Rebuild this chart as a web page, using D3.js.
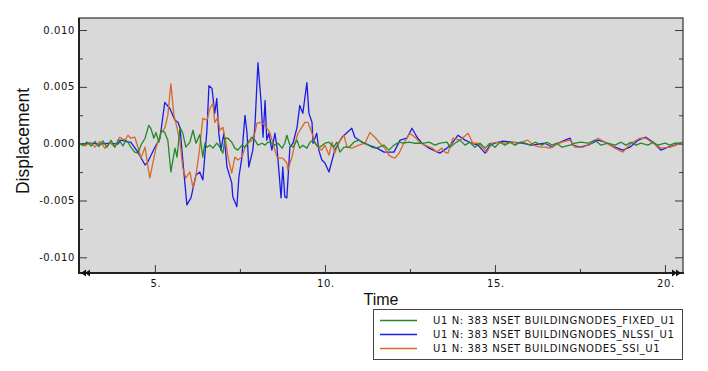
<!DOCTYPE html>
<html>
<head>
<meta charset="utf-8">
<title>Displacement vs Time</title>
<script src="https://d3js.org/d3.v7.min.js"></script>
<style>
  body { margin: 0; background: #fff; }
  svg { display: block; }
  .tick-label { font-family: "DejaVu Sans", Verdana, sans-serif; font-size: 10px; letter-spacing: 0.6px; fill: #111; }
  .axis-title { font-family: "Liberation Sans", Arial, sans-serif; fill: #111; }
  .legend-text { font-family: "DejaVu Sans", Verdana, sans-serif; font-size: 10px; letter-spacing: 0.6px; fill: #111; }
</style>
</head>
<body>
<div id="chart"></div>
<script>
// series names (legend order)
var seriesNames = ["U1 N: 383 NSET BUILDINGNODES_FIXED_U1",
                   "U1 N: 383 NSET BUILDINGNODES_NLSSI_U1",
                   "U1 N: 383 NSET BUILDINGNODES_SSI_U1"];
var seriesColors = ["#25892a", "#1c1ce8", "#d8692a"];

// displacement values are in units of 1e-3
var fixedT = [2.79,2.88,3.00,3.12,3.24,3.35,3.47,3.59,3.71,3.82,3.94,4.06,4.15,4.21,4.29,4.41,4.50,4.59,4.71,4.82,4.88,4.97,5.03,5.12,5.18,5.29,5.38,5.47,5.59,5.65,5.74,5.82,5.91,6.03,6.12,6.21,6.32,6.41,6.47,6.53,6.62,6.71,6.82,6.91,7.00,7.06,7.15,7.26,7.35,7.44,7.56,7.65,7.74,7.85,7.94,8.03,8.15,8.24,8.32,8.44,8.53,8.62,8.74,8.82,8.88,8.97,9.06,9.18,9.26,9.35,9.47,9.56,9.65,9.76,9.85,10.00,10.12,10.26,10.35,10.44,10.56,10.71,10.85,11.00,11.15,11.29,11.38,11.47,11.59,11.74,11.88,12.03,12.18,12.32,12.47,12.62,12.76,12.91,13.06,13.24,13.38,13.59,13.68,13.82,13.97,14.12,14.26,14.41,14.56,14.71,14.85,15.00,15.15,15.29,15.44,15.59,15.74,15.88,16.03,16.18,16.38,16.53,16.68,16.82,16.97,17.21,17.35,17.53,17.74,17.94,18.12,18.32,18.53,18.71,18.85,19.00,19.15,19.29,19.50,19.65,19.79,20.00,20.15,20.29,20.47];
var fixedU = [0.0,-0.15,0.15,-0.2,0.2,-0.25,0.25,-0.3,0.3,-0.3,0.35,-0.2,0.3,0.13,-0.31,-0.74,-0.83,-0.13,0.48,1.62,1.36,0.48,0.99,0.13,1.18,0.99,0.31,-2.49,-0.39,-1.18,1.44,0.92,-0.31,0.13,1.18,0.04,0.8,-1.18,0.04,-0.31,-0.13,-0.39,0.04,-0.31,-0.83,0.48,0.48,0.13,-0.39,-0.57,-0.13,-0.31,0.13,0.57,0.31,-0.13,0.04,-0.13,0.13,0.04,-0.13,0.04,-0.39,0.04,0.74,-0.13,-0.31,0.31,-0.39,-0.13,-0.39,0.13,0.31,-0.13,-0.31,0.04,0.13,-0.31,0.13,-0.74,-0.31,-0.31,0.13,0.31,0.04,-0.13,-0.31,-0.39,-0.31,-0.13,-0.57,-0.13,0.13,0.04,0.13,0.04,0.04,0.04,0.13,-0.13,0.04,0.13,-0.31,0.04,0.31,-0.13,0.13,-0.31,0.04,-0.39,0.04,-0.31,0.13,-0.13,0.13,-0.13,0.13,0.04,-0.13,0.13,-0.13,0.13,-0.13,0.04,-0.31,-0.13,0.04,0.13,0.04,0.31,-0.13,0.04,-0.13,0.13,-0.13,0.13,-0.13,0.04,-0.13,0.13,-0.13,0.04,-0.13,0.04,0.04];

var nlssiT = [2.79,3.09,3.38,3.68,3.91,4.00,4.12,4.21,4.29,4.50,4.71,4.79,5.00,5.15,5.29,5.44,5.59,5.68,5.74,5.82,5.94,6.06,6.21,6.32,6.41,6.53,6.59,6.68,6.76,6.82,6.88,6.94,7.03,7.12,7.26,7.29,7.41,7.47,7.56,7.59,7.65,7.71,7.76,7.88,7.94,8.03,8.12,8.18,8.24,8.29,8.35,8.44,8.53,8.59,8.71,8.76,8.82,8.88,8.97,9.06,9.18,9.26,9.35,9.47,9.53,9.62,9.65,9.76,9.82,9.91,10.00,10.12,10.29,10.50,10.79,10.88,11.09,11.29,11.53,11.74,12.03,12.21,12.41,12.56,12.71,12.85,13.06,13.38,13.59,13.74,13.91,14.12,14.32,14.50,14.71,14.85,15.00,15.24,15.50,15.79,16.09,16.47,16.68,16.85,17.06,17.21,17.29,17.50,17.74,18.03,18.24,18.53,18.76,18.97,19.21,19.44,19.65,19.88,20.09,20.29,20.53];
var nlssiU = [-0.04,0.04,-0.04,0.04,-0.04,0.31,0.22,0.13,0.13,-0.74,-1.88,-1.62,-0.31,0.48,3.63,3.10,2.06,1.88,1.36,-1.44,-5.38,-4.77,-2.75,-2.49,-3.19,1.18,5.11,4.85,2.67,3.98,0.92,-0.57,0.92,-2.05,-3.45,-4.68,-5.55,-2.93,-1.18,0.31,2.49,0.92,-2.05,-0.57,1.44,7.12,3.80,0.57,3.80,0.31,0.92,-0.57,0.92,-0.31,-4.77,-2.05,-4.68,-4.77,-0.31,0.04,1.44,3.37,2.67,5.38,2.67,1.88,0.04,0.92,-0.57,-1.44,-1.70,-2.49,-0.57,0.57,1.36,0.57,0.13,-0.13,-0.39,-0.74,-0.74,0.31,0.48,1.36,0.57,0.04,-0.39,-0.83,-0.39,0.04,0.74,0.31,0.04,-0.13,-0.83,-0.13,0.04,0.22,0.13,0.04,-0.13,0.04,-0.31,0.04,0.31,0.48,-0.13,-0.31,-0.13,0.31,0.13,-0.31,-0.57,-0.31,0.31,0.57,0.13,-0.57,-0.31,-0.13,0.13];

var ssiT = [2.79,2.94,3.09,3.24,3.38,3.53,3.68,3.82,3.91,3.97,4.12,4.21,4.29,4.41,4.50,4.59,4.71,4.79,4.85,4.94,5.03,5.18,5.29,5.38,5.47,5.56,5.62,5.74,5.82,5.91,6.03,6.12,6.21,6.30,6.41,6.53,6.62,6.71,6.76,6.85,6.91,7.00,7.09,7.15,7.26,7.35,7.44,7.56,7.65,7.74,7.85,7.94,8.00,8.09,8.18,8.29,8.38,8.47,8.59,8.68,8.76,8.88,8.91,9.03,9.12,9.21,9.32,9.41,9.50,9.62,9.71,9.79,9.91,10.00,10.12,10.21,10.29,10.41,10.56,10.65,10.79,11.00,11.18,11.32,11.47,11.62,11.76,11.88,11.97,12.06,12.18,12.32,12.50,12.65,12.79,12.94,13.15,13.29,13.44,13.53,13.62,13.76,13.97,14.21,14.35,14.50,14.65,14.76,14.91,15.09,15.29,15.50,15.65,15.79,15.97,16.12,16.32,16.47,16.62,16.76,16.97,17.21,17.35,17.59,17.82,18.03,18.24,18.53,18.76,19.00,19.26,19.44,19.65,19.88,20.15,20.32,20.53];
var ssiU = [0.0,-0.2,0.1,-0.3,0.2,-0.4,0.1,-0.3,0.3,0.57,0.31,0.74,0.48,0.57,-0.31,-1.27,-0.31,-1.88,-3.02,-1.70,-0.39,0.92,1.36,2.49,5.29,2.49,1.79,0.13,-2.14,-3.02,-2.49,-3.89,-2.75,-0.8,2.23,2.06,3.10,3.54,1.88,2.32,1.18,1.44,0.04,-1.18,-2.58,-1.18,-1.44,-1.18,-0.31,0.04,0.31,0.92,1.79,1.88,1.79,1.36,0.99,0.04,-1.18,-1.27,-1.27,-1.70,-2.32,-1.18,0.04,0.92,1.44,1.88,1.88,0.92,0.04,-0.31,-0.57,-0.13,-1.01,0.13,-0.83,0.13,0.74,-0.31,-0.39,-0.13,0.04,0.99,0.57,0.04,-0.39,-1.01,-1.18,-1.27,-0.83,0.04,0.92,0.57,0.13,-0.13,-0.39,-0.74,-0.39,-0.74,-0.83,0.48,0.31,0.92,0.04,0.04,-0.39,-0.74,0.04,0.13,0.04,0.13,0.04,0.13,0.31,-0.13,-0.31,-0.31,-0.39,-0.13,0.13,0.31,-0.31,-0.31,0.04,0.48,0.13,-0.39,-0.74,0.04,0.48,0.48,0.04,-0.39,-0.31,-0.13,0.13];

// axis ticks
var xMajorTicks = [5, 10, 15, 20];
var xTickLabels = ["5.", "10.", "15.", "20."];
var xMinorTicks = [7.5, 12.5, 17.5];
var yMajorTicks = [0.010, 0.005, 0.000, -0.005, -0.010];
var yTickLabels = ["0.010", "0.005", "0.000", "-0.005", "-0.010"];
var yMinorTicks = [0.0075, 0.0025, -0.0025, -0.0075];

var width = 708, height = 371;
var plot = {left: 79, right: 683, top: 18, bottom: 273};

var x = d3.scaleLinear().domain([2.768, 20.53]).range([plot.left, plot.right]);
var y = d3.scaleLinear().domain([-0.01138, 0.01106]).range([plot.bottom, plot.top]);

var svg = d3.select("#chart").append("svg")
    .attr("width", width)
    .attr("height", height);

// plot background
svg.append("rect")
    .attr("x", plot.left).attr("y", plot.top)
    .attr("width", plot.right - plot.left).attr("height", plot.bottom - plot.top)
    .attr("fill", "#d9d9d9");

svg.append("clipPath").attr("id", "clip")
  .append("rect")
    .attr("x", plot.left).attr("y", plot.top)
    .attr("width", plot.right - plot.left).attr("height", plot.bottom - plot.top);

// ticks (inside the frame)
var tickColor = "#3a3a3a";
var ticks = svg.append("g").attr("stroke", tickColor).attr("stroke-width", 1);
xMajorTicks.forEach(function(t) {
  ticks.append("line").attr("x1", x(t) + 0.5).attr("x2", x(t) + 0.5)
    .attr("y1", plot.bottom).attr("y2", plot.bottom - 8);
});
xMinorTicks.forEach(function(t) {
  ticks.append("line").attr("x1", x(t) + 0.5).attr("x2", x(t) + 0.5)
    .attr("y1", plot.bottom).attr("y2", plot.bottom - 4);
});
yMajorTicks.forEach(function(v) {
  ticks.append("line").attr("x1", plot.left).attr("x2", plot.left + 8)
    .attr("y1", y(v) + 0.5).attr("y2", y(v) + 0.5);
  ticks.append("line").attr("x1", plot.right).attr("x2", plot.right - 8)
    .attr("y1", y(v) + 0.5).attr("y2", y(v) + 0.5);
});
yMinorTicks.forEach(function(v) {
  ticks.append("line").attr("x1", plot.left).attr("x2", plot.left + 4)
    .attr("y1", y(v) + 0.5).attr("y2", y(v) + 0.5);
  ticks.append("line").attr("x1", plot.right).attr("x2", plot.right - 4)
    .attr("y1", y(v) + 0.5).attr("y2", y(v) + 0.5);
});

// curves
var line = d3.line()
    .x(function(d) { return x(d[0]); })
    .y(function(d) { return y(d[1] / 1000); });

var curves = [
  {i: 1, data: d3.zip(nlssiT, nlssiU)},
  {i: 2, data: d3.zip(ssiT, ssiU)},
  {i: 0, data: d3.zip(fixedT, fixedU)}
];
var gCurves = svg.append("g").attr("clip-path", "url(#clip)");
curves.forEach(function(c) {
  gCurves.append("path")
    .datum(c.data)
    .attr("fill", "none")
    .attr("stroke", seriesColors[c.i])
    .attr("stroke-width", 1.3)
    .attr("stroke-linejoin", "round")
    .attr("d", line);
});

// frame
svg.append("rect")
    .attr("x", plot.left).attr("y", plot.top)
    .attr("width", plot.right - plot.left).attr("height", plot.bottom - plot.top)
    .attr("fill", "none").attr("stroke", "#333").attr("stroke-width", 1.2);
svg.append("line").attr("x1", plot.left).attr("x2", plot.left)
    .attr("y1", plot.top).attr("y2", plot.bottom + 1)
    .attr("stroke", "#222").attr("stroke-width", 2);
svg.append("line").attr("x1", plot.left).attr("x2", plot.right + 1)
    .attr("y1", plot.bottom).attr("y2", plot.bottom)
    .attr("stroke", "#222").attr("stroke-width", 2);

// double arrow heads at both ends of the time axis
var arrows = svg.append("g").attr("fill", "#111");
[0, 4].forEach(function(dx) {
  var xl = plot.left + 2 + dx;
  arrows.append("path").attr("d", "M" + xl + "," + plot.bottom + "l5,-3.5v7z");
  var xr = plot.right - 2 - dx;
  arrows.append("path").attr("d", "M" + xr + "," + plot.bottom + "l-5,-3.5v7z");
});

// tick labels
svg.append("g").selectAll("text")
  .data(xMajorTicks)
  .enter().append("text")
    .attr("class", "tick-label")
    .attr("x", function(d) { return x(d) + 1; })
    .attr("y", 287)
    .attr("text-anchor", "middle")
    .text(function(d, i) { return xTickLabels[i]; });

svg.append("g").selectAll("text")
  .data(yMajorTicks)
  .enter().append("text")
    .attr("class", "tick-label")
    .attr("x", 75)
    .attr("y", function(d) { return y(d) + 3.5; })
    .attr("text-anchor", "end")
    .text(function(d, i) { return yTickLabels[i]; });

// axis titles
svg.append("text")
    .attr("class", "axis-title")
    .attr("x", (plot.left + plot.right) / 2)
    .attr("y", 305)
    .attr("text-anchor", "middle")
    .style("font-size", "16px")
    .text("Time");

svg.append("text")
    .attr("class", "axis-title")
    .attr("transform", "translate(29,141) rotate(-90)")
    .attr("text-anchor", "middle")
    .style("font-size", "17.5px")
    .text("Displacement");

// legend
var legend = svg.append("g");
legend.append("rect")
    .attr("x", 373.5).attr("y", 309.5)
    .attr("width", 309).attr("height", 50)
    .attr("fill", "#fff").attr("stroke", "#444").attr("stroke-width", 1);
seriesNames.forEach(function(name, i) {
  var ly = 320 + i * 14;
  legend.append("line")
    .attr("x1", 380).attr("x2", 417)
    .attr("y1", ly + 0.5).attr("y2", ly + 0.5)
    .attr("stroke", seriesColors[i]).attr("stroke-width", 1.3);
  legend.append("text")
    .attr("class", "legend-text")
    .attr("x", 433).attr("y", ly + 4)
    .text(name);
});
</script>
</body>
</html>
